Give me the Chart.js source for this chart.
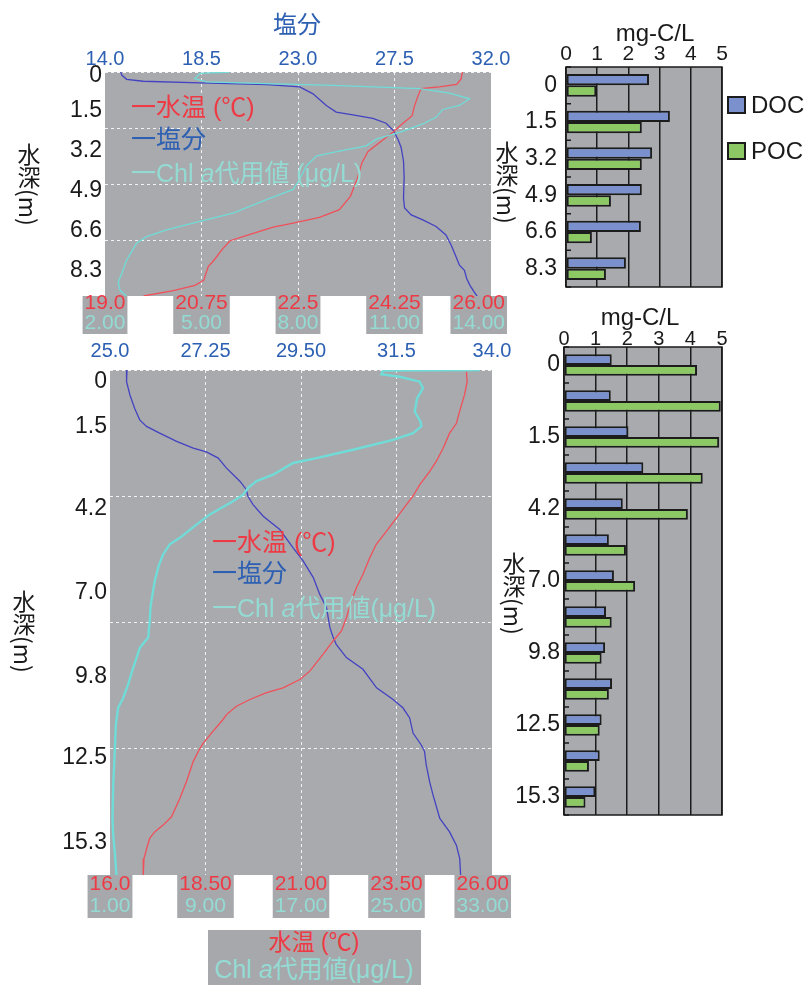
<!DOCTYPE html>
<html><head><meta charset="utf-8">
<script src="https://cdn.jsdelivr.net/npm/chart.js@4/dist/chart.umd.min.js"></script>
<style>
html,body{margin:0;padding:0;background:#fff}
#wrap{position:relative;width:811px;height:985px;overflow:hidden;font-family:"Liberation Sans","Noto Sans CJK JP",sans-serif}
canvas{position:absolute}
.t{position:absolute;white-space:nowrap;line-height:1}
.c{transform:translate(-50%,-50%)}
.v{position:absolute;writing-mode:vertical-rl;line-height:1;font-family:"Noto Sans CJK JP",sans-serif;font-size:23px;color:#1a1a1a;white-space:nowrap}
.sq{position:absolute;width:15px;height:14px;border:2px solid #1c1c1c}
</style></head><body><div id="wrap">
<canvas id="cA" width="520" height="345" style="left:0;top:0"></canvas>
<canvas id="cB" width="520" height="590" style="left:0;top:335px"></canvas>
<canvas id="cC" width="316" height="320" style="left:495px;top:0"></canvas>
<canvas id="cD" width="316" height="540" style="left:495px;top:300px"></canvas>

<div class="t c" style="left:297px;top:23px;font-size:24px;color:#2d60b2;font-family:'Noto Sans CJK JP'">塩分</div>
<div class="v" style="left:17px;top:143px">水深(m)</div>
<div class="v" style="left:12px;top:590px">水深(m)</div>
<div class="v" style="left:495px;top:141px">水深(m)</div>
<div class="v" style="left:502px;top:552px">水深(m)</div>

<div class="t" style="left:131px;top:95px;font-size:25px;color:#ee3a44">一水温 (℃)</div>
<div class="t" style="left:131px;top:127px;font-size:25px;color:#2d60b2">一塩分</div>
<div class="t" style="left:131px;top:161px;font-size:25px;color:#93dbd3">一Chl <i>a</i>代用値 (μg/L)</div>

<div class="t" style="left:212px;top:530px;font-size:25px;color:#ee3a44">一水温 (℃)</div>
<div class="t" style="left:212px;top:561px;font-size:25px;color:#2d60b2">一塩分</div>
<div class="t" style="left:212px;top:596px;font-size:25px;color:#93dbd3">一Chl <i>a</i>代用値(μg/L)</div>

<div style="position:absolute;left:208px;top:930px;width:213px;height:55px;background:#a7a8ac"></div>
<div class="t c" style="left:314px;top:942px;font-size:23px;color:#ee3a44">水温 (℃)</div>
<div class="t c" style="left:314px;top:969px;font-size:25px;color:#93dbd3">Chl <i>a</i>代用値(μg/L)</div>

<div class="t c" style="left:655px;top:33px;font-size:24px;color:#1a1a1a">mg-C/L</div>
<div class="t c" style="left:640px;top:317px;font-size:24px;color:#1a1a1a">mg-C/L</div>
<div class="sq" style="left:727px;top:96px;background:#7a91cd"></div>
<div class="t" style="left:751px;top:93px;font-size:24px;color:#1a1a1a">DOC</div>
<div class="sq" style="left:727px;top:142px;background:#8cc864"></div>
<div class="t" style="left:751px;top:139px;font-size:24px;color:#1a1a1a">POC</div>
</div>
<script>
// ---------- DATA ----------
// top profile (station 1)
const topSalTicks = [14, 18.5, 23, 27.5, 32];
const topSalLabels = ['14.0', '18.5', '23.0', '27.5', '32.0'];
const topTempTicks = [19, 20.75, 22.5, 24.25, 26];
const topTempLabels = ['19.0', '20.75', '22.5', '24.25', '26.00'];
const topChlTicks = [2, 5, 8, 11, 14];
const topChlLabels = ['2.00', '5.00', '8.00', '11.00', '14.00'];
const topDepthLabels = [0, 1.5, 3.2, 4.9, 6.6, 8.3];
const topDepthGrid = [0, 2.36, 4.72, 7.08];

const topSalDepth = [0, 0.14, 0.31, 0.39, 0.46, 0.53, 0.63, 0.92, 1.41, 1.69, 1.81, 1.95, 2.16, 2.47, 2.83, 3.18, 3.75, 4.46, 5.31, 5.73, 6.02, 6.23, 6.51, 6.87, 7.29, 7.79, 8.14, 8.36, 8.71, 8.99, 9.28, 9.44];
const topSal = [14.73, 14.79, 15.01, 15.78, 18.42, 21.53, 23.08, 23.70, 24.32, 24.78, 25.56, 26.49, 27.11, 27.45, 27.66, 27.81, 27.92, 27.95, 27.92, 27.97, 28.28, 28.82, 29.44, 29.90, 30.14, 30.37, 30.53, 30.76, 30.87, 31.02, 31.22, 31.35];
const topTempDepth = [0, 0.28, 0.52, 0.63, 0.70, 0.985, 1.45, 1.84, 2.29, 2.54, 2.97, 3.35, 3.82, 4.53, 5.24, 5.80, 6.13, 6.37, 6.54, 6.94, 7.11, 7.43, 7.89, 8.21, 8.78, 8.99, 9.21, 9.44];
const topTemp = [25.48, 25.46, 25.38, 25.06, 24.73, 24.68, 24.61, 24.57, 24.34, 24.22, 23.98, 23.77, 23.66, 23.57, 23.45, 23.25, 22.89, 22.41, 22.05, 21.50, 21.27, 21.14, 20.99, 20.87, 20.79, 20.63, 20.24, 19.70];
const topChlDepth = [0, 0.06, 0.28, 0.42, 0.49, 0.56, 0.70, 0.89, 1.13, 1.41, 1.58, 1.91, 2.19, 2.54, 2.83, 3.11, 3.39, 3.54, 3.96, 4.53, 4.95, 5.38, 5.95, 6.30, 6.65, 6.94, 7.22, 7.93, 8.50, 8.85, 9.21, 9.44];
const topChl = [5.88, 4.95, 4.79, 5.16, 7.02, 9.09, 11.78, 12.71, 13.33, 13.02, 12.50, 12.29, 11.88, 11.16, 10.43, 10.12, 9.09, 8.57, 8.26, 8.05, 7.85, 7.02, 5.98, 4.95, 3.91, 3.29, 2.98, 2.67, 2.52, 2.41, 2.47, 2.67];

// bottom profile (station 2)
const botSalTicks = [25, 27.25, 29.5, 31.75, 34];
const botSalLabels = ['25.0', '27.25', '29.50', '31.5', '34.0'];
const botTempTicks = [16, 18.5, 21, 23.5, 26];
const botTempLabels = ['16.0', '18.50', '21.00', '23.50', '26.00'];
const botChlTicks = [1, 9, 17, 25, 33];
const botChlLabels = ['1.00', '9.00', '17.00', '25.00', '33.00'];
const botDepthLabels = [0, 1.5, 4.2, 7.0, 9.8, 12.5, 15.3];
const botDepthGrid = [0, 4.1, 8.2, 12.3];

const botSalDepth = [0, 0.38, 0.81, 1.24, 1.62, 1.83, 2.05, 2.32, 2.54, 2.66, 2.86, 3.18, 3.61, 3.88, 4.10, 4.37, 4.75, 5.18, 5.77, 6.20, 6.74, 7.28, 7.71, 8.36, 8.69, 8.91, 9.34, 9.72, 10.32, 10.70, 10.97, 11.30, 11.79, 12.17, 12.39, 12.82, 13.37, 13.80, 14.56, 15.00, 15.43, 15.87, 16.40];
const botSal = [25.40, 25.39, 25.47, 25.58, 25.70, 25.86, 26.17, 26.57, 26.96, 27.27, 27.55, 27.74, 28.06, 28.21, 28.25, 28.37, 28.61, 29.00, 29.31, 29.55, 29.79, 29.94, 30.10, 30.18, 30.26, 30.33, 30.57, 30.96, 31.28, 31.67, 31.90, 32.06, 32.14, 32.33, 32.41, 32.45, 32.53, 32.61, 32.77, 33.00, 33.16, 33.24, 33.26];
const botTempDepth = [0.05, 0.38, 0.81, 1.35, 1.73, 2.05, 2.54, 2.97, 3.29, 3.72, 4.10, 4.37, 4.80, 5.23, 5.66, 6.10, 6.64, 7.07, 7.50, 8.04, 8.47, 8.80, 9.23, 9.78, 10.05, 10.32, 10.48, 10.70, 10.92, 11.19, 11.35, 11.73, 12.12, 12.39, 12.71, 13.37, 13.91, 14.51, 14.78, 15.00, 15.21, 15.54, 15.87, 16.40];
const botTemp = [25.33, 25.35, 25.28, 25.15, 25.07, 24.89, 24.72, 24.54, 24.37, 24.11, 23.93, 23.76, 23.50, 23.24, 22.97, 22.80, 22.62, 22.45, 22.32, 22.19, 22.06, 21.84, 21.58, 21.23, 20.97, 20.53, 20.10, 19.66, 19.31, 19.05, 18.96, 18.70, 18.44, 18.31, 18.18, 18.00, 17.83, 17.61, 17.39, 17.17, 17.04, 16.96, 16.89, 16.87];
const botChlDepth = [0, 0.02, 0.14, 0.22, 0.38, 0.59, 0.92, 1.35, 1.67, 1.83, 2.05, 2.27, 2.59, 2.86, 3.02, 3.40, 3.61, 3.83, 4.05, 4.26, 4.69, 5.02, 5.45, 5.66, 5.99, 6.42, 6.85, 7.28, 7.71, 8.09, 8.69, 9.02, 9.67, 10.21, 10.65, 10.97, 11.52, 12.39, 13.48, 14.56, 15.11, 15.65, 16.40];
const botChl = [31.97, 23.87, 23.73, 25.27, 26.94, 27.22, 26.72, 26.53, 27.00, 27.08, 26.39, 24.71, 21.36, 18.29, 16.34, 14.66, 13.27, 12.57, 12.15, 11.31, 9.36, 8.24, 6.85, 6.01, 5.45, 5.03, 4.75, 4.56, 4.39, 4.34, 4.20, 3.50, 2.94, 2.52, 2.10, 1.68, 1.49, 1.40, 1.27, 1.21, 1.27, 1.40, 1.54];

// bar charts
const topBarDepths = ['0', '1.5', '3.2', '4.9', '6.6', '8.3'];
const topDOC = [2.66, 3.33, 2.76, 2.43, 2.40, 1.92];
const topPOC = [0.97, 2.43, 2.43, 1.44, 0.83, 1.28];
const botBarDepths = ['0', '', '1.5', '', '4.2', '', '7.0', '', '9.8', '', '12.5', '', '15.3'];
const botDOC = [1.51, 1.48, 2.04, 2.51, 1.86, 1.42, 1.58, 1.33, 1.30, 1.52, 1.19, 1.13, 0.99];
const botPOC = [4.21, 4.96, 4.91, 4.39, 3.92, 1.96, 2.25, 1.51, 1.19, 1.42, 1.13, 0.79, 0.68];

// ---------- STYLE ----------
const GREY = '#a9aaae', BOXGREY = '#a7a8ac';
const RED = '#f0505a', BLUE = '#4343c2', CYAN = '#70dcd8';
const RED_T = '#ee3a44', BLUE_T = '#2d60b2', CYAN_T = '#93dbd3';
const GRIDW = 'rgba(255,255,255,0.85)';
const INK = '#1a1a1a';
Chart.defaults.font.family = '"Liberation Sans","Noto Sans CJK JP",sans-serif';

const pts = (xs, ds) => xs.map((v, i) => ({x: v, y: ds[i]}));
const fmtDepth = v => v === 0 ? '0' : v.toFixed(1);

const plotBg = {id: 'plotBg', beforeDraw(c, a, o) {
  const {ctx, chartArea: ca} = c;
  ctx.save(); ctx.fillStyle = o.color; ctx.fillRect(ca.left, ca.top, ca.width, ca.height); ctx.restore();
}};

const boxLabels = {id: 'boxLabels', afterDraw(c, a, o) {
  const {ctx, chartArea: ca} = c;
  const sT = c.scales.xT, sC = c.scales.xC;
  ctx.save();
  ctx.font = o.size + 'px "Liberation Sans"';
  ctx.textAlign = 'center'; ctx.textBaseline = 'middle';
  o.tVals.forEach((v, i) => {
    const x = sT.getPixelForValue(v);
    const xc = sC.getPixelForValue(o.cVals[i]);
    const w = Math.max(ctx.measureText(o.tLabels[i]).width, ctx.measureText(o.cLabels[i]).width) + 4;
    let left = x - w / 2;
    if (left + w > ca.right + o.over) left = ca.right + o.over - w;
    const shift = left + w / 2 - x;
    ctx.fillStyle = BOXGREY; ctx.fillRect(left, ca.bottom, w, o.boxH);
    ctx.fillStyle = RED_T; ctx.fillText(o.tLabels[i], x + shift, ca.bottom + o.redY);
    ctx.fillStyle = CYAN_T; ctx.fillText(o.cLabels[i], xc + shift, ca.bottom + o.cyanY);
  });
  ctx.restore();
}};

const frame = {id: 'frame', afterDraw(c, a, o) {
  const {ctx, chartArea: ca} = c;
  const ys = c.scales.y;
  ctx.save();
  ctx.strokeStyle = INK; ctx.lineWidth = 1.5;
  ctx.strokeRect(ca.left, ca.top, ca.width, ca.height);
  const n = c.data.labels.length;
  const band = ys.getPixelForValue(1) - ys.getPixelForValue(0);
  ctx.beginPath();
  for (let i = 0; i <= n; i++) {
    const y = ys.getPixelForValue(i) - band / 2;
    ctx.moveTo(ca.left, y); ctx.lineTo(ca.left + 5, y);
  }
  ctx.stroke();
  ctx.restore();
}};

function profile(id, p) {
  return new Chart(document.getElementById(id), {
    type: 'line',
    data: {datasets: [
      {data: pts(p.chl, p.chlD), xAxisID: 'xC', yAxisID: 'y', borderColor: CYAN, borderWidth: p.chlW},
      {data: pts(p.temp, p.tempD), xAxisID: 'xT', yAxisID: 'y', borderColor: RED, borderWidth: 1.3},
      {data: pts(p.sal, p.salD), xAxisID: 'xS', yAxisID: 'y', borderColor: BLUE, borderWidth: 1.3}
    ]},
    options: {
      responsive: false, animation: false,
      layout: {padding: {left: 0, top: 0, right: p.padR, bottom: p.padB}},
      elements: {point: {radius: 0}, line: {tension: 0, fill: false}},
      plugins: {legend: {display: false}, tooltip: {enabled: false},
        plotBg: {color: GREY},
        boxLabels: {tVals: p.tTicks, tLabels: p.tLabels, cVals: p.cTicks, cLabels: p.cLabels,
          size: 21, redY: p.redY, cyanY: p.cyanY, boxH: p.boxH, over: p.over}},
      scales: {
        xS: {type: 'linear', position: 'top', min: p.sTicks[0], max: p.sTicks[p.sTicks.length - 1],
          afterBuildTicks: s => { s.ticks = p.sTicks.map(v => ({value: v})); },
          afterFit: s => { s.height = p.topH; },
          ticks: {callback: (v, i) => p.sLabels[i], color: BLUE_T, font: {size: 20}, padding: p.sPad, autoSkip: false, maxRotation: 0},
          grid: {drawTicks: false, lineWidth: 1, color: ctx => (ctx.index > 0 && ctx.index < p.sTicks.length - 1) ? GRIDW : 'rgba(0,0,0,0)'},
          border: {display: false, dash: [3, 3]}},
        xT: {type: 'linear', display: false, min: p.tTicks[0], max: p.tTicks[p.tTicks.length - 1]},
        xC: {type: 'linear', display: false, min: p.cTicks[0], max: p.cTicks[p.cTicks.length - 1]},
        y: {type: 'linear', position: 'left', reverse: true, min: 0, max: p.dMax,
          afterBuildTicks: s => { s.ticks = p.grid.map(v => ({value: v})); },
          afterFit: s => { s.width = 0; },
          ticks: {display: false},
          grid: {drawTicks: false, color: GRIDW, lineWidth: 1},
          border: {display: false, dash: [3, 3]}},
        yl: {type: 'linear', position: 'left', reverse: true, min: p.lMin, max: p.lMax,
          afterBuildTicks: s => { s.ticks = p.dLabels.map(v => ({value: v})); },
          afterFit: s => { s.width = p.leftW; },
          ticks: {callback: v => fmtDepth(v), color: INK, font: {size: 23}, padding: 3, autoSkip: false},
          grid: {display: false, drawTicks: false}, border: {display: false}}
      }
    },
    plugins: [plotBg, boxLabels]
  });
}

function bars(id, b) {
  const common = {borderColor: '#1c1c1c', borderWidth: 2, borderSkipped: false, barPercentage: 1, categoryPercentage: b.cat};
  return new Chart(document.getElementById(id), {
    type: 'bar',
    data: {labels: b.labels, datasets: [
      Object.assign({label: 'DOC', data: b.doc, backgroundColor: '#7a91cd'}, common),
      Object.assign({label: 'POC', data: b.poc, backgroundColor: '#8cc864'}, common)
    ]},
    options: {
      indexAxis: 'y', responsive: false, animation: false,
      layout: {padding: {left: 0, top: 0, right: b.padR, bottom: b.padB}},
      plugins: {legend: {display: false}, tooltip: {enabled: false}, plotBg: {color: GREY}},
      scales: {
        x: {position: 'top', min: 0, max: 5,
          afterFit: s => { s.height = b.topH; },
          ticks: {stepSize: 1, color: INK, font: {size: b.xFont}, padding: b.xPad, maxRotation: 0},
          grid: {color: '#1c1c1c', lineWidth: 1.5, drawTicks: false}, border: {display: false}},
        y: {afterFit: s => { s.width = b.leftW; },
          ticks: {color: INK, font: {size: 23}, padding: b.yPad, autoSkip: false},
          grid: {display: false, drawTicks: false}, border: {display: false}}
      }
    },
    plugins: [plotBg, frame]
  });
}

profile('cA', {
  sal: topSal, salD: topSalDepth, temp: topTemp, tempD: topTempDepth, chl: topChl, chlD: topChlDepth, chlW: 1.3,
  sTicks: topSalTicks, sLabels: topSalLabels, tTicks: topTempTicks, tLabels: topTempLabels,
  cTicks: topChlTicks, cLabels: topChlLabels, dLabels: topDepthLabels, grid: topDepthGrid,
  dMax: 9.44, lMin: -0.17, lMax: 9.40,
  padR: 29, padB: 49, topH: 72, leftW: 105, sPad: 1,
  redY: 7, cyanY: 27, boxH: 38, over: 16
});
profile('cB', {
  sal: botSal, salD: botSalDepth, temp: botTemp, tempD: botTempDepth, chl: botChl, chlD: botChlDepth, chlW: 2.4,
  sTicks: botSalTicks, sLabels: botSalLabels, tTicks: botTempTicks, tLabels: botTempLabels,
  cTicks: botChlTicks, cLabels: botChlLabels, dLabels: botDepthLabels, grid: botDepthGrid,
  dMax: 16.4, lMin: -0.40, lMax: 16.39,
  padR: 28, padB: 50, topH: 35, leftW: 110, sPad: 7,
  redY: 9, cyanY: 31, boxH: 43, over: 19
});
bars('cC', {labels: topBarDepths, doc: topDOC, poc: topPOC, cat: 0.62,
  padR: 89, padB: 33, topH: 67, leftW: 71, xFont: 21, xPad: 0, yPad: 9});
bars('cD', {labels: botBarDepths, doc: botDOC, poc: botPOC, cat: 0.6,
  padR: 89, padB: 25, topH: 47, leftW: 69, xFont: 20, xPad: -4, yPad: 4});
</script>
</body></html>
